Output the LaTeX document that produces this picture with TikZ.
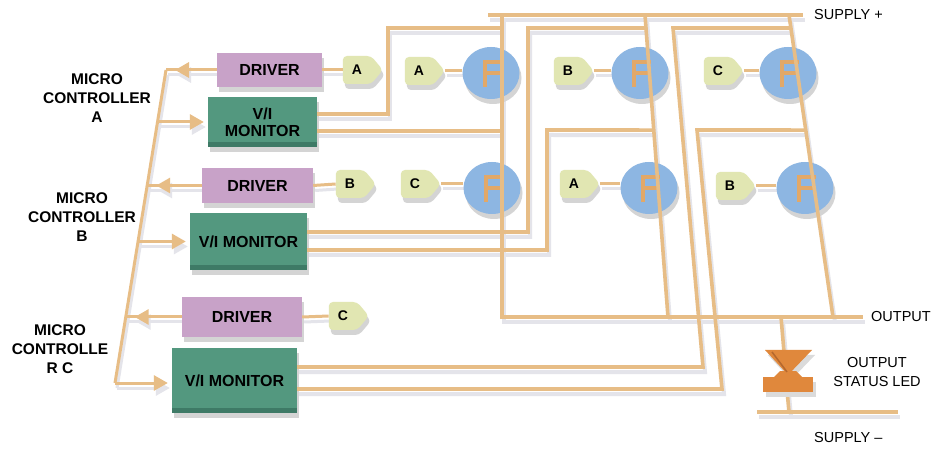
\documentclass[tikz,border=0pt]{standalone}
\usepackage{fontspec}
\setmainfont{Liberation Sans}
\usetikzlibrary{shapes.symbols,shapes.geometric,arrows.meta,calc,shadows}
\definecolor{wirec}{HTML}{E7BD86}
\definecolor{wshad}{HTML}{E4E4EA}
\definecolor{drvc}{HTML}{C8A2C8}
\definecolor{monc}{HTML}{53987F}
\definecolor{mondark}{HTML}{3E7A66}
\definecolor{tagc}{HTML}{E1E6B2}
\definecolor{fetc}{HTML}{8DB6E2}
\definecolor{symc}{HTML}{E2A868}
\definecolor{ledc}{HTML}{E0883C}
\definecolor{leddark}{HTML}{B5682E}
\pgfdeclarelayer{bg}
\pgfsetlayers{bg,main}
\tikzset{
  wire/.style={draw=wirec, line width=3.6pt},
  gwire/.style={draw=wirec, line width=3pt},
  swire/.style={draw=wshad, line width=4pt},
  sgwire/.style={draw=wshad, line width=3pt},
  bshadow/.style={drop shadow={shadow xshift=2pt, shadow yshift=-5pt, fill=black!17, opacity=1}},
  boxfont/.style={font=\fontsize{16}{18}\selectfont\bfseries},
  drvbox/.style={bshadow, fill=drvc, boxfont, inner sep=0pt},
  monbox/.style={bshadow, fill=monc, boxfont, inner sep=0pt, align=center,
     path picture={\fill[mondark] (path picture bounding box.south west) rectangle ([yshift=5pt]path picture bounding box.south east);}},
  sigtag/.style={bshadow, signal, signal to=east, signal pointer angle=100, fill=tagc,
     minimum width=40pt, minimum height=28pt, inner sep=0pt, rounded corners=4pt,
     font=\fontsize{14}{16}\selectfont\bfseries},
  fet/.style={bshadow, ellipse, fill=fetc, minimum width=57pt, minimum height=52pt, inner sep=0pt},
  mclbl/.style={align=center, font=\fontsize{15.5}{19}\selectfont\bfseries, inner sep=0pt},
  rlbl/.style={font=\fontsize{14.5}{19}\selectfont, inner sep=0pt},
  arrL/.style={-{Triangle[width=15pt,length=14pt]}},
  symline/.style={draw=symc, line width=4pt},
}
\newcommand\fetsym[1]{%
  \draw[symline] ($(#1)+(-6,-12)$) -- ($(#1)+(-6,14)$);
  \draw[symline] ($(#1)+(-8,-11)$) -- ($(#1)+(11,-11)$);
  \draw[symline] ($(#1)+(-6,0)$) -- ($(#1)+(11,0)$);
}
\newcommand\wiring[2]{%
  % controller bus
  \draw[#2] (bus1) -- (bus6);
  \draw[#2] (drvA.west) -- (bus1);
  \draw[#2,arrL] (drvA.west) -- ($(bus1)+(9,0)$);
  \draw[#2] (drvB.west) -- (bus3);
  \draw[#2,arrL] (drvB.west) -- ($(bus3)+(9,0)$);
  \draw[#2] (drvC.west) -- (bus5);
  \draw[#2,arrL] (drvC.west) -- ($(bus5)+(9,0)$);
  \draw[#2,arrL] (bus2) -- (mAw);
  \draw[#2,arrL] (bus4) -- (mBw);
  \draw[#2,arrL] (bus6) -- (mCw);
  % drivers to signal tags
  \draw[#2] (drvA.east) -- (tgA1.west);
  \draw[#2] (drvB.east) -- (tgB1.west);
  \draw[#2] (drvC.east) -- (tgC1.west);
  % tags to gates
  \draw[#2] (tgA2.east) -- (tgA2.east -| q1.west);
  \draw[#2] (tgB2.east) -- (tgB2.east -| q2.west);
  \draw[#2] (tgC2.east) -- (tgC2.east -| q3.west);
  \draw[#2] (tgC3.east) -- (tgC3.east -| q4.west);
  \draw[#2] (tgA3.east) -- (tgA3.east -| q5.west);
  \draw[#2] (tgB3.east) -- (tgB3.east -| q6.west);
  % supply and switch legs
  \draw[#1] (sp1) -- (sp2);
  \draw[#1] (t1) -- (o1) -- (oR);
  \draw[#1] (t2) -- (o2);
  \draw[#1] (t3) -- (o3);
  % V/I monitor sense lines
  \draw[#1] ($(monA.east)+(0,-8)$) -- (388,114) -- (388,28) -- (502,28);
  \draw[#1] ($(monA.east)+(0,9)$) -- (502,131);
  \draw[#1] ($(monB.east)+(0,-9.5)$) -- (528,232) -- (528,28) -- ($(t2)!0.043!(o2)$);
  \draw[#1] ($(monB.east)+(0,8.5)$) -- (547,250) -- (547,130) -- ($(t2)!0.381!(o2)$);
  \draw[#1] ($(monC.east)+(0,-13.5)$) -- (703,367) -- (673,28) -- ($(t3)!0.043!(o3)$);
  \draw[#1] ($(monC.east)+(0,8.5)$) -- (722,389) -- (697,130) -- ($(t3)!0.381!(o3)$);
  % LED
  \draw[#1] (ledin) -- (ledtop);
  \draw[#1] (ledbot) -- (ledout);
  \draw[#1] (sm1) -- (sm2);
}
\begin{document}
\begin{tikzpicture}[x=1pt,y=-1pt]
\useasboundingbox (0,0) rectangle (940,454);

% controller labels
\node[mclbl] (mcA) at (97,98) {MICRO\\CONTROLLER\\A};
\node[mclbl] (mcB) at (82,217) {MICRO\\CONTROLLER\\B};
\node[mclbl] (mcC) at (60,349) {MICRO\\CONTROLLE\\R C};

% driver and monitor boxes
\node[drvbox, minimum width=105pt, minimum height=34pt] (drvA) at (269.5,70) {DRIVER};
\node[monbox, minimum width=109pt, minimum height=50pt] (monA) at (262.5,122) {V/I\\[-1pt]MONITOR};
\node[drvbox, minimum width=111pt, minimum height=35pt] (drvB) at (257.5,185.5) {DRIVER};
\node[monbox, minimum width=117pt, minimum height=57pt] (monB) at (248.5,241.5) {V/I MONITOR};
\node[drvbox, minimum width=120pt, minimum height=40pt] (drvC) at (242,317) {DRIVER};
\node[monbox, minimum width=125pt, minimum height=65pt] (monC) at (234.5,380.5) {V/I MONITOR};

% signal tags
\node[sigtag] (tgA1) at (357,70) {A};
\node[sigtag] (tgB1) at (350,184) {B};
\node[sigtag] (tgC1) at (343,316) {C};
\node[sigtag] (tgA2) at (419,71) {A};
\node[sigtag] (tgB2) at (568,71) {B};
\node[sigtag] (tgC2) at (718,71) {C};
\node[sigtag] (tgC3) at (415,184) {C};
\node[sigtag] (tgA3) at (574,184) {A};
\node[sigtag] (tgB3) at (730,186) {B};

% switches
\node[fet] (q1) at (491,73) {};
\node[fet] (q2) at (640,73) {};
\node[fet] (q3) at (788,73) {};
\node[fet] (q4) at (492,188) {};
\node[fet] (q5) at (649,188) {};
\node[fet] (q6) at (805,188) {};
\fetsym{q1}\fetsym{q2}\fetsym{q3}\fetsym{q4}\fetsym{q5}\fetsym{q6}

% right labels
\node[rlbl, anchor=west] (lsp) at (814,15) {SUPPLY +};
\node[rlbl, anchor=west] (lout) at (871,317) {OUTPUT};
\node[rlbl, align=center] (lled) at (877,372) {OUTPUT\\STATUS LED};
\node[rlbl, anchor=west] (lsm) at (814,438) {SUPPLY --};

% coordinates
\coordinate (bus1) at (166,70);
\coordinate (bus2) at (157.5,122);
\coordinate (bus3) at (147.2,185.5);
\coordinate (bus4) at (138,241.5);
\coordinate (bus5) at (125.7,317);
\coordinate (bus6) at (115,383);
\coordinate (mAw) at ($(monA.west)+(-4,0)$);
\coordinate (mBw) at ($(monB.west)+(-4,0)$);
\coordinate (mCw) at ($(monC.west)+(-4,2.5)$);
\coordinate (sp1) at (488,15);
\coordinate (sp2) at (803,15);
\coordinate (t1) at (502,15);
\coordinate (o1) at (502,317);
\coordinate (t2) at (645,15);
\coordinate (o2) at (668,317);
\coordinate (t3) at (789,15);
\coordinate (o3) at (833,317);
\coordinate (oR) at (863,317);
\coordinate (ledin) at (781,317);
\coordinate (ledtop) at (784,352);
\coordinate (ledbot) at (787,390);
\coordinate (ledout) at (789,412);
\coordinate (sm1) at (757,412);
\coordinate (sm2) at (898,412);

% background and wire shadows
\begin{pgfonlayer}{bg}
  \fill[white] (0,0) rectangle (940,454);
  \begin{scope}[transform canvas={shift={(2pt,-5pt)}}]
    \wiring{swire}{sgwire}
  \end{scope}
\end{pgfonlayer}

% wires
\wiring{wire}{gwire}

% output status LED
\fill[black!14] (768,355) -- (815,355) -- (791,380) -- cycle;
\fill[black!14] (766,382) rectangle (816,397);
\fill[ledc] (765,350) -- (812,350) -- (788,375) -- cycle;
\fill[ledc] (780,371) -- (796,371) -- (803,378) -- (773,378) -- cycle;
\fill[ledc] (763,377) rectangle (813,392);
\draw[leddark, line width=1.5pt] (772,352) -- (787,372);
\end{tikzpicture}
\end{document}
